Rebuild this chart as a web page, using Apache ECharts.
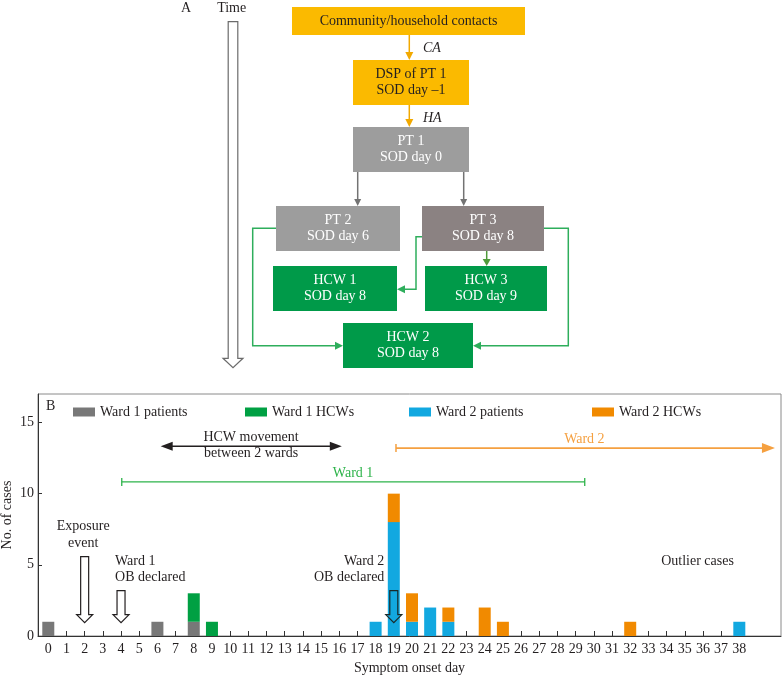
<!DOCTYPE html>
<html><head><meta charset="utf-8">
<script src="https://cdn.jsdelivr.net/npm/echarts@6/dist/echarts.min.js"></script>
<style>html,body{margin:0;padding:0;background:#fff}#c{width:782px;height:677px}</style>
</head><body><div id="c"></div>
<script>
// ---- data ----
const days = ['0','1','2','3','4','5','6','7','8','9','10','11','12','13','14','15','16','17','18','19',
  '20','21','22','23','24','25','26','27','28','29','30','31','32','33','34','35','36','37','38'];
const seriesNames = ['Ward 1 patients','Ward 1 HCWs','Ward 2 patients','Ward 2 HCWs'];
const ward1Patients = [[0,1],[6,1],[8,1]];
const ward1HCWs = [[8,2],[9,1]];
const ward2Patients = [[18,1],[19,8],[20,1],[21,2],[22,1],[38,1]];
const ward2HCWs = [[19,2],[20,2],[22,1],[24,2],[25,1],[32,1]];
const yMax = 17, yInterval = 5;

// ---- styles ----
const FF = '"Liberation Serif","Times New Roman",serif';
const TXT = '#231f20';
const barColors = ['#787878','#00a043','#12a8e0','#f18a00'];
const legendLefts = [73,245,409,592];

function toSeriesData(pairs){
  const arr = days.map(()=>'-');
  pairs.forEach(([d,v])=>{ arr[days.indexOf(String(d))] = v; });
  return arr;
}
const allData = [ward1Patients, ward1HCWs, ward2Patients, ward2HCWs];

const chart = echarts.init(document.getElementById('c'), null, {renderer:'canvas'});
const option = {
  animation:false,
  backgroundColor:'#fff',
  textStyle:{fontFamily:FF},
  grid:[
    {left:39.2, right:33.6, top:394, bottom:41, outerBoundsMode:'none', containLabel:false},
    {left:38, right:1, top:394, bottom:41, show:true, borderColor:'#8a8a8a', borderWidth:1, outerBoundsMode:'none', containLabel:false}
  ],
  legend: seriesNames.map((n,i)=>({
    data:[n], left:legendLefts[i], top:405, padding:0, itemWidth:22, itemHeight:9, icon:'rect',
    selectedMode:false, textStyle:{fontSize:14, fontFamily:FF, color:TXT}
  })),
  xAxis:[
    {gridIndex:0, type:'category', data:days, boundaryGap:true,
     axisLine:{show:false},
     axisTick:{show:true, inside:true, alignWithLabel:true, interval:0, length:5, lineStyle:{color:'#333'}},
     axisLabel:{interval:0, margin:6, fontSize:14, fontFamily:FF, color:TXT},
     splitLine:{show:false}},
    {gridIndex:1, type:'value', min:0, max:1,
     axisLine:{show:true, onZero:false, lineStyle:{color:'#333', width:1}},
     axisTick:{show:false}, axisLabel:{show:false}, splitLine:{show:false},
     name:'Symptom onset day', nameLocation:'middle', nameGap:25, nameMoveOverlap:false,
     nameTextStyle:{fontSize:14, fontFamily:FF, color:TXT}}
  ],
  yAxis:[
    {gridIndex:0, type:'value', min:0, max:yMax, show:false, splitLine:{show:false}},
    {gridIndex:1, type:'value', min:0, max:yMax, interval:yInterval,
     axisLine:{show:true, onZero:false, lineStyle:{color:'#333', width:1}},
     axisTick:{show:true, inside:true, length:4, lineStyle:{color:'#333'}},
     axisLabel:{margin:4, fontSize:14, fontFamily:FF, color:TXT, showMaxLabel:false},
     splitLine:{show:false},
     name:'No. of cases', nameLocation:'middle', nameGap:24, nameRotate:90, nameMoveOverlap:false,
     nameTextStyle:{fontSize:14, fontFamily:FF, color:TXT}}
  ],
  series: seriesNames.map((n,i)=>({
    name:n, type:'bar', xAxisIndex:0, yAxisIndex:0, stack:'cases', barWidth:12,
    itemStyle:{color:barColors[i]}, data:toSeriesData(allData[i]), z:2
  }))
};
chart.setOption(option);

// ---- graphic helpers ----
function txt(text, x, y, opt){
  opt = opt || {};
  return {type:'text', z:100, style:{text, x, y, align:opt.align||'center', verticalAlign:'middle',
    fontSize:opt.size||14, fontFamily:FF, fontStyle:opt.italic?'italic':'normal',
    fill:opt.color||TXT, lineHeight:opt.lh||16.5}};
}
function rect(x1,y1,x2,y2,fill){
  return {type:'rect', z:90, shape:{x:x1,y:y1,width:x2-x1,height:y2-y1}, style:{fill}};
}
function box(x1,y1,x2,y2,fill,text,color){
  return [rect(x1,y1,x2,y2,fill), txt(text,(x1+x2)/2,(y1+y2)/2,{color, lh:16.5})];
}
function head(p, q, color, len, hw){
  const dx=q[0]-p[0], dy=q[1]-p[1], L=Math.hypot(dx,dy), ux=dx/L, uy=dy/L;
  const bx=q[0]-ux*len, by=q[1]-uy*len;
  return {type:'polygon', z:100, shape:{points:[[q[0],q[1]],[bx-uy*hw,by+ux*hw],[bx+uy*hw,by-ux*hw]]}, style:{fill:color}};
}
function arrowLine(pts, color, width, len, hw, both){
  const out=[];
  const last=pts[pts.length-1], prev=pts[pts.length-2];
  const dx=last[0]-prev[0], dy=last[1]-prev[1], L=Math.hypot(dx,dy);
  const lp = pts.slice(); lp[lp.length-1]=[last[0]-dx/L*(len-1), last[1]-dy/L*(len-1)];
  if(both){ const f=pts[0], s=pts[1]; const ex=s[0]-f[0], ey=s[1]-f[1], M=Math.hypot(ex,ey);
    lp[0]=[f[0]+ex/M*(len-1), f[1]+ey/M*(len-1)]; out.push(head(s,f,color,len,hw)); }
  out.push({type:'polyline', z:99, shape:{points:lp}, style:{stroke:color, lineWidth:width, fill:null}});
  out.push(head(prev,last,color,len,hw));
  return out;
}
function hollowDown(x, yTop, yTip, sw, hw, hl, fill, stroke){
  const yb = yTip-hl;
  return {type:'polygon', z:101, shape:{points:[[x-sw,yTop],[x+sw,yTop],[x+sw,yb],[x+hw,yb],[x,yTip],[x-hw,yb],[x-sw,yb]]},
    style:{fill:fill, stroke:stroke, lineWidth:1.2}};
}

// ---- panel A: flow diagram ----
const Y = '#fbba00', GR='#9d9d9d', GR3='#8b8282', GN='#009a49';
let g = [];
g.push(txt('A',186,8));
g.push(txt('Time',231.7,8));
g.push(hollowDown(233, 21.7, 367.7, 4.8, 10, 9.4, '#fff', '#6b6b6b'));
g = g.concat(box(292,7,525,35,Y,'Community/household contacts',TXT));
g = g.concat(box(353,60,469,105,Y,'DSP of PT 1\nSOD day \u20131',TXT));
g = g.concat(box(353,127,469,172,GR,'PT 1\nSOD day 0','#fff'));
g = g.concat(box(276,206,400,251,GR,'PT 2\nSOD day 6','#fff'));
g = g.concat(box(422,206,544,251,GR3,'PT 3\nSOD day 8','#fff'));
g = g.concat(box(273,266,397,311,GN,'HCW 1\nSOD day 8','#fff'));
g = g.concat(box(425,266,547,311,GN,'HCW 3\nSOD day 9','#fff'));
g = g.concat(box(343,323,473,368,GN,'HCW 2\nSOD day 8','#fff'));
g = g.concat(arrowLine([[409.3,35],[409.3,60]],'#f2a900',1.5,8,4));
g = g.concat(arrowLine([[409.3,105],[409.3,127]],'#f2a900',1.5,8,4));
g.push(txt('CA',423,48.5,{align:'left',italic:true}));
g.push(txt('HA',423,118.5,{align:'left',italic:true}));
g = g.concat(arrowLine([[357.7,172],[357.7,206]],'#737373',1.5,7,3.5));
g = g.concat(arrowLine([[463.7,172],[463.7,206]],'#737373',1.5,7,3.5));
const GL='#2eae5c';
g = g.concat(arrowLine([[276,228.3],[252.7,228.3],[252.7,345.7],[343,345.7]],GL,1.5,8,4));
g = g.concat(arrowLine([[422,236.7],[416,236.7],[416,289.3],[397,289.3]],GL,1.5,8,4));
g = g.concat(arrowLine([[544,228.3],[568.3,228.3],[568.3,345.7],[473,345.7]],GL,1.5,8,4));
g = g.concat(arrowLine([[486.7,251],[486.7,266]],'#4f9b3a',1.5,7,4));

// ---- panel B annotations (positioned in data coordinates) ----
const x0 = chart.convertToPixel({xAxisIndex:0}, 0);
const x38 = chart.convertToPixel({xAxisIndex:0}, 38);
const px = d => x0 + (x38-x0)*d/38;
const py = v => chart.convertToPixel({yAxisIndex:1}, v);

g.push(txt('B',46,406,{align:'left'}));
g = g.concat(arrowLine([[px(6.18),py(13.33)],[px(16.14),py(13.33)]],'#231f20',1.5,12,4.5,true));
g.push(txt('HCW movement\nbetween 2 wards',px(11.15),py(13.38)));
const OR='#f5a040';
g.push({type:'line',z:100,shape:{x1:px(19.12),y1:py(13.2)-4,x2:px(19.12),y2:py(13.2)+4},style:{stroke:OR,lineWidth:1.5}});
g = g.concat(arrowLine([[px(19.12),py(13.2)],[px(39.96),py(13.2)]],OR,1.8,13,5));
g.push(txt('Ward 2',px(29.48),py(13.85),{color:OR}));
const GW='#2db34a';
g.push({type:'line',z:100,shape:{x1:px(4.04),y1:py(10.82),x2:px(29.5),y2:py(10.82)},style:{stroke:GW,lineWidth:1.3}});
g.push({type:'line',z:100,shape:{x1:px(4.04),y1:py(10.82)-4,x2:px(4.04),y2:py(10.82)+4},style:{stroke:GW,lineWidth:1.3}});
g.push({type:'line',z:100,shape:{x1:px(29.5),y1:py(10.82)-4,x2:px(29.5),y2:py(10.82)+4},style:{stroke:GW,lineWidth:1.3}});
g.push(txt('Ward 1',px(16.76),py(11.46),{color:GW}));
g.push(txt('Exposure\nevent',px(1.92),py(7.11)));
g.push(hollowDown(px(2),py(5.58),py(0.94),4,8,8,'#fff','#231f20'));
g.push(txt('Ward 1\nOB declared',px(3.67),py(4.69),{align:'left'}));
g.push(hollowDown(px(4),py(3.19),py(0.94),4,8,8,'#fff','#231f20'));
g.push(txt('Ward 2\nOB declared',px(18.48),py(4.69),{align:'right'}));
g.push(hollowDown(px(19),py(3.19),py(0.94),4,8,8,null,'#1a2a2a'));
g.push(txt('Outlier cases',px(35.7),py(5.28)));

chart.setOption({graphic:{elements:g}});
</script></body></html>
